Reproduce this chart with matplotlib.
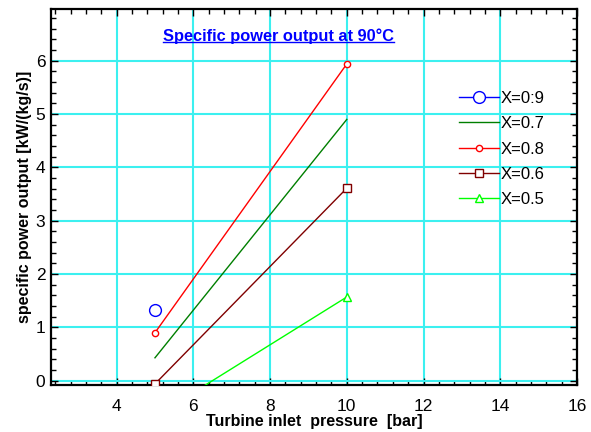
import matplotlib
matplotlib.use("Agg")
import matplotlib.pyplot as plt
from matplotlib.ticker import MultipleLocator

plt.rcParams['font.family'] = ['Liberation Sans', 'DejaVu Sans']

pressure = [5, 10]
x09 = [1.32]
x07 = [0.43, 4.90]
x08 = [0.90, 5.94]
x06 = [-0.06, 3.61]
x05 = [-0.67, 1.57]
labels = ["X=0:9", "X=0.7", "X=0.8", "X=0.6", "X=0.5"]

fig = plt.figure(figsize=(5.91, 4.32), dpi=100)
ax = fig.add_axes([51/591, 47/432, 526/591, 376/432])

ax.set_xlim(2.29, 16)
ax.set_ylim(-0.08, 6.97)

ax.plot([5], x09, linestyle='-', color='#0000FF', marker='o', ms=8.5,
        mfc='white', mec='#0000FF', mew=1.0, lw=1.0, label=labels[0], zorder=3)
ax.plot(pressure, x07, color='#007F00', lw=1.0, label=labels[1], zorder=3)
ax.plot(pressure, x08, color='#FF0000', lw=1.0, marker='o', ms=4.5,
        mfc='white', mec='#FF0000', mew=1.0, label=labels[2], zorder=3)
ax.plot(pressure, x06, color='#800000', lw=1.0, marker='s', ms=6,
        mfc='white', mec='#800000', mew=1.0, label=labels[3], zorder=3)
ax.plot(pressure, x05, color='#00FF00', lw=1.0, marker='^', ms=6,
        mfc='white', mec='#00FF00', mew=1.0, label=labels[4], zorder=3,
        markevery=[1])

ax.xaxis.set_major_locator(MultipleLocator(2))
ax.xaxis.set_minor_locator(MultipleLocator(0.4))
ax.yaxis.set_major_locator(MultipleLocator(1))
ax.yaxis.set_minor_locator(MultipleLocator(0.2))

ax.grid(True, which='major', color='#3CF0F0', lw=1.5, zorder=0)
ax.set_axisbelow(True)

ax.tick_params(which='both', direction='in', top=True, right=True,
               labelsize=12.5, width=1.0, color='black')
ax.tick_params(which='major', length=5)
ax.tick_params(axis='x', which='major', pad=10)
ax.tick_params(axis='y', which='major', pad=4)
ax.tick_params(which='minor', length=3.5)
for s in ax.spines.values():
    s.set_linewidth(1.6)

ax.set_xlabel("Turbine inlet  pressure  [bar]", fontsize=11.5,
              fontweight='bold', labelpad=0)
ax.set_ylabel("specific power output [kW/(kg/s)]", fontsize=11.5,
              fontweight='bold', labelpad=3)

t = ax.text(0.433, 0.928, "Specific power output at 90°C", transform=ax.transAxes,
            ha='center', va='center', color='#0000FF', fontsize=11.8,
            fontweight='bold')
# underline
fig.canvas.draw()
bb = t.get_window_extent().transformed(ax.transAxes.inverted())
ax.plot([bb.x0, bb.x1], [bb.y0 + 0.004, bb.y0 + 0.004], transform=ax.transAxes,
        color='#0000FF', lw=1.0, clip_on=False)

leg = ax.legend(loc='upper left', bbox_to_anchor=(0.775, 0.782),
                frameon=False, fontsize=12, borderpad=0, borderaxespad=0,
                handlelength=2.4, handletextpad=0.1, labelspacing=0.62)

fig.savefig("out.png", dpi=100)
